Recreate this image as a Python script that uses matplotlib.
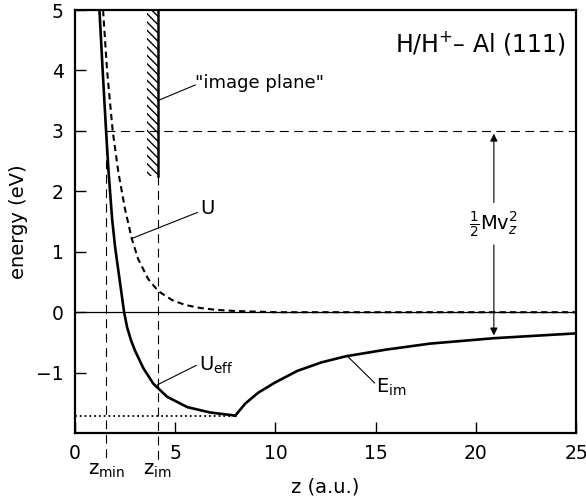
import numpy as np
import matplotlib
matplotlib.use('Agg')
import matplotlib.pyplot as plt

# values
ueff_z = [1.22, 1.38, 1.55, 1.68, 1.85, 2.0, 2.15, 2.3, 2.45, 2.6, 2.8, 3.0, 3.4,
          3.9, 4.6, 5.6, 6.75, 8.0]
ueff_e = [5.0, 4.0, 3.0, 2.3, 1.55, 1.08, 0.72, 0.36, 0.0, -0.25, -0.47, -0.64, -0.92,
          -1.18, -1.40, -1.57, -1.66, -1.71]

eim_z = [8.0, 8.5, 9.15, 10.0, 11.1, 12.3, 13.5, 15.5, 17.7, 20.9, 25.0]
eim_e = [-1.71, -1.51, -1.33, -1.16, -0.97, -0.83, -0.73, -0.62, -0.52, -0.43, -0.35]

u_z = [1.4, 1.6, 1.88, 2.17, 2.5, 2.83, 3.15, 3.65, 4.15, 4.85, 5.5, 6.25, 7.0,
       8.0, 9.0, 10.0, 25.0]
u_e = [5.0, 4.0, 3.0, 2.3, 1.7, 1.22, 0.88, 0.55, 0.35, 0.2, 0.12, 0.07, 0.04,
       0.02, 0.01, 0.0, 0.0]

z_min = 1.55
z_im = 4.12
e_min = -1.71
e_kin = 3.0
z_arrow = 20.9
e_arrow_low = -0.43
plane_top, plane_bottom = 5.0, 2.25

plt.rcParams['font.family'] = ['DejaVu Sans']
fig = plt.figure(figsize=(5.86, 5.03), dpi=100)
ax = fig.add_axes([0.128, 0.139, 0.855, 0.841])

ax.plot(ueff_z, ueff_e, color='black', lw=1.9, solid_joinstyle='round')
ax.plot(eim_z, eim_e, color='black', lw=1.9, solid_joinstyle='round')
ax.plot(u_z, u_e, color='black', lw=1.5, dashes=(3, 2))

ax.axhline(0, color='black', lw=0.9)
ax.plot([0, 8.0], [e_min, e_min], color='black', lw=1.3, ls=':')
ax.plot([z_min, 25], [e_kin, e_kin], color='black', lw=0.8, dashes=(8, 5))

# vertical dashed lines, running below the axis
ax.plot([z_min, z_min], [e_kin, -2.45], color='black', lw=0.8, dashes=(8, 5), clip_on=False)
ax.plot([z_im, z_im], [plane_bottom, -2.45], color='black', lw=0.8, dashes=(8, 5), clip_on=False)

# image plane
ax.fill_betweenx([plane_bottom, plane_top], z_im - 0.55, z_im, facecolor='none',
                 edgecolor='black', hatch='\\\\\\\\', lw=0)
ax.plot([z_im, z_im], [plane_bottom, plane_top], color='black', lw=1.8)

# kinetic energy arrow
ax.annotate('', xy=(z_arrow, e_kin), xytext=(z_arrow, 1.77),
            arrowprops=dict(arrowstyle='-|>', color='black', lw=0.8, mutation_scale=11))
ax.annotate('', xy=(z_arrow, e_arrow_low), xytext=(z_arrow, 1.16),
            arrowprops=dict(arrowstyle='-|>', color='black', lw=0.8, mutation_scale=11))
ax.text(z_arrow, 1.45, r'$\frac{1}{2}$Mv$_z^2$', ha='center', va='center', fontsize=14)

# labels with pointer lines
ax.plot([z_im, 6.0], [3.5, 3.76], color='black', lw=0.8)
ax.text(6.0, 3.8, '"image plane"', ha='left', va='center', fontsize=13)
ax.plot([2.83, 6.1], [1.22, 1.65], color='black', lw=0.8)
ax.text(6.25, 1.72, 'U', ha='left', va='center', fontsize=14)
ax.plot([z_im, 6.05], [-1.2, -0.88], color='black', lw=0.8)
ax.text(6.2, -0.88, r'U$_{\rm eff}$', ha='left', va='center', fontsize=14)
ax.plot([13.6, 14.95], [-0.73, -1.17], color='black', lw=0.8)
ax.text(15.0, -1.25, r'E$_{\rm im}$', ha='left', va='center', fontsize=14)

ax.text(24.5, 4.45, r'H/H$^{+}$– Al (111)', ha='right', va='center', fontsize=17)

ax.text(z_min, -2.62, r'z$_{\rm min}$', ha='center', va='center', fontsize=14)
ax.text(z_im, -2.62, r'z$_{\rm im}$', ha='center', va='center', fontsize=14)

ax.set_xlim(0, 25)
ax.set_ylim(-2, 5)
ax.set_xticks([0, 5, 10, 15, 20, 25])
ax.set_yticks([-1, 0, 1, 2, 3, 4, 5])
ax.tick_params(direction='in', length=8, width=1, labelsize=13.5, pad=8)
for s in ax.spines.values():
    s.set_linewidth(1.6)
ax.set_xlabel('z (a.u.)', fontsize=14, labelpad=10)
ax.set_ylabel('energy (eV)', fontsize=14, labelpad=6)

fig.savefig('out.png', dpi=100)
